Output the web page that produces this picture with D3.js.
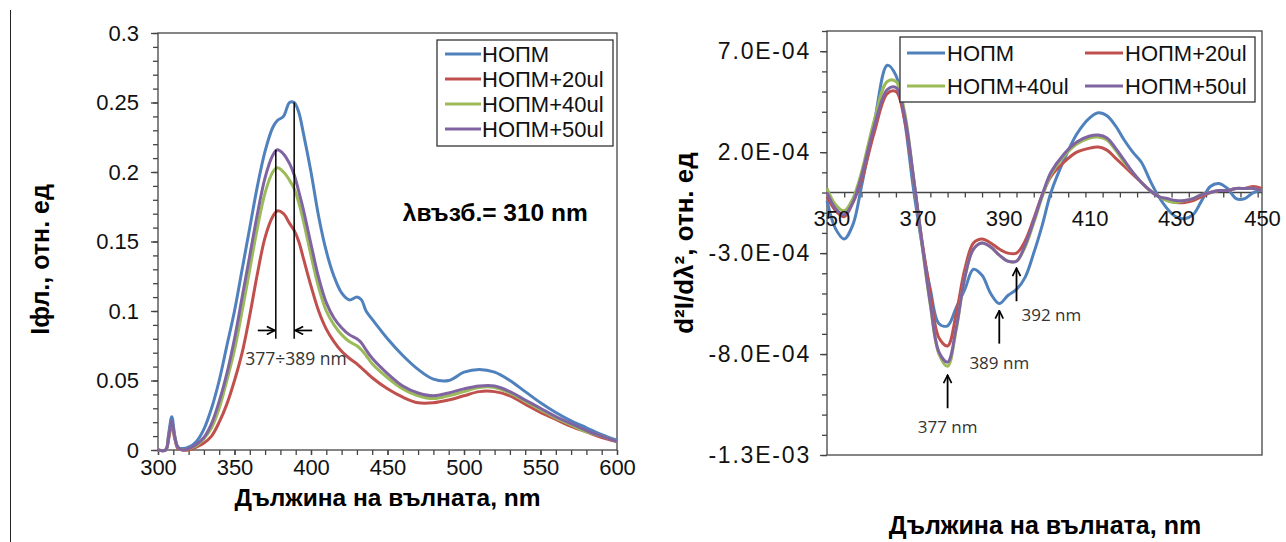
<!DOCTYPE html>
<html>
<head>
<meta charset="utf-8">
<script src="https://cdnjs.cloudflare.com/ajax/libs/d3/7.8.5/d3.min.js"></script>
<style>
body { margin: 0; background: #fff; }
svg { display: block; font-family: "Liberation Sans", Arial, sans-serif; }
.axis path, .axis line { stroke: #444; stroke-width: 1.3; }
.axis text { fill: #111; font-size: 22px; }
.wide text { font-size: 23px; letter-spacing: 1.8px; }
</style>
</head>
<body>
<div id="diagram_area"></div>
<script>
// Флуоресценция и втора производна - данни, отчетени от графиката

var names = ["НОПМ", "НОПМ+20ul", "НОПМ+40ul", "НОПМ+50ul"];
var colors = ["#4F81BD", "#C0504D", "#9BBB59", "#8064A2"];

// ляв график: Iфл. спрямо дължина на вълната
var flWl = [300, 305, 307, 309, 311, 313, 316, 320, 325, 330, 335, 340, 345, 350, 355, 360, 365, 370, 375, 378,
            382, 386, 389, 392, 395, 400, 405, 410, 415, 420, 425, 430, 433, 436, 440, 450, 460, 470, 480, 490,
            500, 510, 520, 530, 540, 550, 560, 570, 580, 590, 600];
var flNopm = [0, 0, 0.012, 0.024, 0.01, 0.002, 0.001, 0.002, 0.006, 0.015, 0.03, 0.05, 0.075, 0.1, 0.13, 0.16, 0.19, 0.215, 0.232, 0.237,
              0.24, 0.25, 0.25, 0.243, 0.228, 0.2, 0.168, 0.143, 0.125, 0.113, 0.108, 0.11, 0.108, 0.1, 0.094, 0.08, 0.068, 0.058, 0.051, 0.05,
              0.056, 0.058, 0.056, 0.05, 0.042, 0.034, 0.027, 0.021, 0.016, 0.011, 0.007];
var flNopm20 = [0, 0, 0.008, 0.018, 0.008, 0.001, 0, 0, 0.002, 0.005, 0.01, 0.02, 0.033, 0.05, 0.07, 0.097, 0.127, 0.153, 0.168, 0.172,
                0.17, 0.163, 0.158, 0.15, 0.138, 0.118, 0.1, 0.087, 0.078, 0.071, 0.066, 0.062, 0.059, 0.056, 0.052, 0.044, 0.038, 0.034, 0.034, 0.036,
                0.039, 0.042, 0.042, 0.039, 0.033, 0.027, 0.022, 0.017, 0.013, 0.009, 0.006];
var flNopm40 = [0, 0, 0.01, 0.02, 0.009, 0.002, 0, 0.001, 0.003, 0.008, 0.016, 0.03, 0.05, 0.072, 0.1, 0.13, 0.16, 0.185, 0.2, 0.203,
                0.2, 0.194, 0.188, 0.178, 0.165, 0.14, 0.117, 0.1, 0.09, 0.083, 0.078, 0.075, 0.072, 0.068, 0.062, 0.052, 0.044, 0.039, 0.037, 0.039,
                0.042, 0.045, 0.045, 0.041, 0.035, 0.029, 0.023, 0.018, 0.013, 0.01, 0.006];
var flNopm50 = [0, 0, 0.01, 0.021, 0.009, 0.002, 0, 0.001, 0.004, 0.009, 0.019, 0.035, 0.055, 0.08, 0.11, 0.14, 0.17, 0.196, 0.212, 0.216,
                0.213, 0.206, 0.198, 0.186, 0.173, 0.148, 0.124, 0.106, 0.095, 0.088, 0.083, 0.08, 0.077, 0.072, 0.066, 0.055, 0.046, 0.041, 0.039, 0.041,
                0.044, 0.046, 0.046, 0.042, 0.036, 0.03, 0.024, 0.019, 0.014, 0.01, 0.006];
var flTicks = [0, 0.05, 0.1, 0.15, 0.2, 0.25, 0.3];
var flTickLabels = ["0", "0.05", "0.1", "0.15", "0.2", "0.25", "0.3"];
var flWlTicks = [300, 350, 400, 450, 500, 550, 600];

// десен график: d2I/dλ2, стойностите са в единици 1E-04
var d2Wl = [349, 351, 353, 355, 357, 360, 363, 365, 367, 369, 371, 373, 375, 377, 379, 381, 383, 385, 387, 389,
            391, 393, 395, 397, 399, 401, 404, 407, 410, 412, 414, 416, 418, 420, 422, 424, 426, 428, 430, 432,
            434, 436, 438, 440, 442, 444, 446, 448, 450];
var d2Nopm = [-0.4, -1.8, -2.3, -1.6, 0.3, 3.5, 6.3, 5.8, 3.6, 0.3, -2.5, -4.8, -6.5, -6.6, -5.7, -4.8, -3.8, -4.1, -5.0, -5.5,
              -5.1, -4.8, -4.2, -3.0, -1.6, 0, 1.6, 2.9, 3.7, 3.95, 3.8, 3.3, 2.6, 2.0, 1.5, 0.6, -0.2, -0.8, -1.2, -1.3,
              -1.1, -0.4, 0.3, 0.45, 0.2, -0.3, -0.3, 0, 0.1];
var d2Nopm20 = [-0.2, -0.9, -1.2, -0.5, 0.6, 3.0, 4.9, 5.0, 3.6, 0.8, -2.3, -5.0, -7.2, -7.6, -6.0, -3.8, -2.5, -2.3, -2.5, -2.8,
                -3.0, -3.0, -2.4, -1.3, -0.1, 0.8, 1.5, 2.0, 2.2, 2.25, 2.1, 1.7, 1.3, 0.9, 0.5, 0.1, -0.2, -0.4, -0.5, -0.5,
                -0.4, -0.2, 0, 0.1, 0.1, 0.2, 0.2, 0.3, 0.2];
var d2Nopm40 = [0.2, -0.6, -0.9, -0.3, 1.0, 3.6, 5.5, 5.5, 4.0, 0.9, -2.5, -5.6, -8.0, -8.6, -6.8, -4.2, -2.8, -2.5, -2.7, -3.1,
                -3.4, -3.4, -2.7, -1.5, -0.2, 0.9, 1.8, 2.4, 2.7, 2.75, 2.6, 2.1, 1.5, 1.0, 0.5, 0.1, -0.2, -0.4, -0.5, -0.4,
                -0.3, -0.1, 0, 0.1, 0.1, 0.2, 0.2, 0.2, 0.1];
var d2Nopm50 = [0, -0.8, -1.1, -0.5, 0.8, 3.3, 5.1, 5.2, 3.8, 0.9, -2.4, -5.5, -7.9, -8.4, -6.7, -4.2, -2.8, -2.5, -2.7, -3.1,
                -3.4, -3.4, -2.6, -1.4, -0.1, 1.0, 1.9, 2.5, 2.8, 2.85, 2.7, 2.2, 1.6, 1.0, 0.5, 0.1, -0.2, -0.3, -0.4, -0.4,
                -0.3, -0.1, 0, 0.1, 0.1, 0.2, 0.2, 0.2, 0.1];
var d2Ticks = [-13, -8, -3, 2, 7];
var d2TickLabels = ["-1.3E-03", "-8.0E-04", "-3.0E-04", "2.0E-04", "7.0E-04"];
var d2WlTicks = [350, 370, 390, 410, 430, 450];

// стрелки на десния график
var d2Marks = [
    {wl: 377, label: "377 nm"},
    {wl: 389, label: "389 nm"},
    {wl: 392, label: "392 nm"}
];

var svg = d3.select("#diagram_area").append("svg")
    .attr("width", 1286)
    .attr("height", 542);

// рамката на страницата отляво
svg.append("line")
    .attr("x1", 10.5).attr("x2", 10.5)
    .attr("y1", 10).attr("y2", 542)
    .attr("stroke", "#222").attr("stroke-width", 1);

function seriesOf(wl, list) {
    return list.map(function(vals, i) {
        return {name: names[i], color: colors[i], values: wl.map(function(w, j) { return [w, vals[j]]; })};
    });
}

// ---------------- ляв график ----------------
var fl = {left: 158, right: 617, top: 33, bottom: 450};

var x1 = d3.scaleLinear().domain([300, 600]).range([fl.left, fl.right]);
var y1 = d3.scaleLinear().domain([0, 0.3]).range([fl.bottom, fl.top]);

var g1 = svg.append("g");

g1.append("rect")
    .attr("x", fl.left).attr("y", fl.top)
    .attr("width", fl.right - fl.left).attr("height", fl.bottom - fl.top)
    .attr("fill", "none").attr("stroke", "#444").attr("stroke-width", 1.3);

// малки деления
g1.append("g").attr("class", "axis")
    .attr("transform", "translate(" + fl.left + ",0)")
    .call(d3.axisLeft(y1).tickValues(d3.range(0, 31).map(function(i) { return i / 100; })).tickSize(5).tickFormat(""))
    .select(".domain").remove();
g1.append("g").attr("class", "axis")
    .attr("transform", "translate(" + fl.left + ",0)")
    .call(d3.axisLeft(y1).tickValues(flTicks).tickSize(7).tickPadding(12)
        .tickFormat(function(d, i) { return flTickLabels[i]; }))
    .select(".domain").remove();

g1.append("g").attr("class", "axis")
    .attr("transform", "translate(0," + fl.bottom + ")")
    .call(d3.axisBottom(x1).tickValues(d3.range(300, 601, 10)).tickSize(5).tickFormat(""))
    .select(".domain").remove();
g1.append("g").attr("class", "axis")
    .attr("transform", "translate(0," + fl.bottom + ")")
    .call(d3.axisBottom(x1).tickValues(flWlTicks).tickSize(5).tickPadding(4).tickFormat(d3.format("d")))
    .select(".domain").remove();

var line1 = d3.line()
    .curve(d3.curveCatmullRom)
    .x(function(d) { return x1(d[0]); })
    .y(function(d) { return y1(d[1]); });

g1.append("g").selectAll("path")
    .data(seriesOf(flWl, [flNopm, flNopm20, flNopm40, flNopm50]))
    .enter().append("path")
    .attr("d", function(d) { return line1(d.values); })
    .attr("fill", "none")
    .attr("stroke", function(d) { return d.color; })
    .attr("stroke-width", 3)
    .attr("stroke-linejoin", "round");

// вертикалните линии при 377 и 389 nm
var peakLines = [{wl: 377, v: flNopm50[flWl.indexOf(378)]}, {wl: 389, v: flNopm[flWl.indexOf(389)]}];
g1.selectAll(".peak")
    .data(peakLines)
    .enter().append("line")
    .attr("x1", function(d) { return x1(d.wl); })
    .attr("x2", function(d) { return x1(d.wl); })
    .attr("y1", function(d) { return y1(d.v); })
    .attr("y2", y1(0.08))
    .attr("stroke", "#000").attr("stroke-width", 1.5);

svg.append("defs").append("marker")
    .attr("id", "arr")
    .attr("viewBox", "0 0 10 10")
    .attr("refX", 9).attr("refY", 5)
    .attr("markerWidth", 10).attr("markerHeight", 10)
    .attr("markerUnits", "userSpaceOnUse")
    .attr("orient", "auto")
  .append("path")
    .attr("d", "M1,1 L9,5 L1,9")
    .attr("fill", "none").attr("stroke", "#000").attr("stroke-width", 1.7);

var ay = y1(0.086);
g1.append("line")
    .attr("x1", x1(377) - 18).attr("x2", x1(377) - 1)
    .attr("y1", ay).attr("y2", ay)
    .attr("stroke", "#000").attr("stroke-width", 1.7).attr("marker-end", "url(#arr)");
g1.append("line")
    .attr("x1", x1(389) + 18).attr("x2", x1(389) + 1)
    .attr("y1", ay).attr("y2", ay)
    .attr("stroke", "#000").attr("stroke-width", 1.7).attr("marker-end", "url(#arr)");

g1.append("text")
    .attr("x", x1(383) + 11).attr("y", y1(0.0615))
    .attr("text-anchor", "middle")
    .attr("font-family", "'Open Sans', sans-serif")
    .attr("font-size", 17.5).attr("fill", "#333")
    .text("377÷389 nm");

g1.append("text")
    .attr("x", x1(460)).attr("y", y1(0.165))
    .attr("font-size", 24.5).attr("font-weight", "bold")
    .text("λвъзб.= 310 nm");

// легенда
var lg1 = g1.append("g").attr("transform", "translate(437,40)");
lg1.append("rect")
    .attr("width", 176).attr("height", 106)
    .attr("fill", "#fff").attr("stroke", "#333").attr("stroke-width", 1.3);
var lgItem1 = lg1.selectAll(".item")
    .data(names)
    .enter().append("g")
    .attr("transform", function(d, i) { return "translate(8," + (14 + i * 25) + ")"; });
lgItem1.append("line")
    .attr("x1", 0).attr("x2", 36)
    .attr("stroke", function(d, i) { return colors[i]; })
    .attr("stroke-width", 3);
lgItem1.append("text")
    .attr("x", 37).attr("dy", "0.36em")
    .attr("font-size", 22).attr("fill", "#111")
    .text(function(d) { return d; });

g1.append("text")
    .attr("transform", "translate(49," + ((fl.top + fl.bottom) / 2 + 18) + ") rotate(-90)")
    .attr("text-anchor", "middle")
    .attr("font-size", 25).attr("font-weight", "bold")
    .text("Iфл., отн. ед");

g1.append("text")
    .attr("x", (fl.left + fl.right) / 2).attr("y", 506)
    .attr("text-anchor", "middle")
    .attr("font-size", 24.5).attr("font-weight", "bold")
    .text("Дължина на вълната, nm");

// ---------------- десен график ----------------
var d2 = {left: 827, right: 1262, top: 31, bottom: 455};

var x2 = d3.scaleLinear().domain([349, 450]).range([d2.left, d2.right]);
var y2 = d3.scaleLinear().domain([-13, 8]).range([d2.bottom, d2.top]);

var g2 = svg.append("g");

g2.append("rect")
    .attr("x", d2.left).attr("y", d2.top)
    .attr("width", d2.right - d2.left).attr("height", d2.bottom - d2.top)
    .attr("fill", "none").attr("stroke", "#444").attr("stroke-width", 1.3);

g2.append("g").attr("class", "axis")
    .attr("transform", "translate(" + d2.left + ",0)")
    .call(d3.axisLeft(y2).tickValues(d3.range(-13, 9)).tickSize(5).tickFormat(""))
    .select(".domain").remove();
g2.append("g").attr("class", "axis wide")
    .attr("transform", "translate(" + d2.left + ",0)")
    .call(d3.axisLeft(y2).tickValues(d2Ticks).tickSize(7).tickPadding(9)
        .tickFormat(function(d, i) { return d2TickLabels[i]; }))
    .select(".domain").remove();

var x2Axis = g2.append("g").attr("class", "axis")
    .attr("transform", "translate(0," + y2(0) + ")")
    .call(d3.axisBottom(x2).tickValues(d3.range(353, 450, 4)).tickSize(5).tickFormat(""));
x2Axis.select(".domain").attr("d", "M" + d2.left + ",0H" + d2.right);

var line2 = d3.line()
    .curve(d3.curveCatmullRom)
    .x(function(d) { return x2(d[0]); })
    .y(function(d) { return y2(d[1]); });

g2.append("g").selectAll("path")
    .data(seriesOf(d2Wl, [d2Nopm, d2Nopm20, d2Nopm40, d2Nopm50]))
    .enter().append("path")
    .attr("d", function(d) { return line2(d.values); })
    .attr("fill", "none")
    .attr("stroke", function(d) { return d.color; })
    .attr("stroke-width", 3)
    .attr("stroke-linejoin", "round");

// етикетите на оста x се рисуват върху кривите
g2.append("g").attr("class", "axis")
    .attr("transform", "translate(0," + y2(0) + ")")
    .call(d3.axisBottom(x2).tickValues(d2WlTicks).tickSize(0).tickPadding(18).tickFormat(d3.format("d")))
    .select(".domain").remove();

// стрелки нагоре и надписи
var markTop = {377: -9.0, 389: -5.8, 392: -3.7};
var markG = g2.selectAll(".mark")
    .data(d2Marks)
    .enter().append("g");
markG.append("line")
    .attr("x1", function(d) { return x2(d.wl + (d.wl == 392 ? 1 : 0)); })
    .attr("x2", function(d) { return x2(d.wl + (d.wl == 392 ? 1 : 0)); })
    .attr("y1", function(d) { return y2(markTop[d.wl]) + 34; })
    .attr("y2", function(d) { return y2(markTop[d.wl]) + 1; })
    .attr("stroke", "#000").attr("stroke-width", 1.8).attr("marker-end", "url(#arr)");
markG.append("text")
    .attr("x", function(d) { return d.wl == 392 ? x2(393) + 5 : x2(d.wl); })
    .attr("y", function(d) { return y2(markTop[d.wl]) + (d.wl == 392 ? 54 : 59); })
    .attr("text-anchor", function(d) { return d.wl == 392 ? "start" : "middle"; })
    .attr("font-family", "'Open Sans', sans-serif")
    .attr("font-size", 17).attr("fill", "#333")
    .text(function(d) { return d.label; });

// легенда в две колони
var lg2 = g2.append("g").attr("transform", "translate(900,37)");
lg2.append("rect")
    .attr("width", 355).attr("height", 65)
    .attr("fill", "#fff").attr("stroke", "#333").attr("stroke-width", 1.3);
var lgItem2 = lg2.selectAll(".item")
    .data(names)
    .enter().append("g")
    .attr("transform", function(d, i) { return "translate(" + (i % 2 ? 185 : 7) + "," + (16 + Math.floor(i / 2) * 33) + ")"; });
lgItem2.append("line")
    .attr("x1", 0).attr("x2", 38)
    .attr("stroke", function(d, i) { return colors[i]; })
    .attr("stroke-width", 3);
lgItem2.append("text")
    .attr("x", 40).attr("dy", "0.36em")
    .attr("font-size", 22).attr("fill", "#111")
    .text(function(d) { return d; });

g2.append("text")
    .attr("transform", "translate(693," + ((d2.top + d2.bottom) / 2) + ") rotate(-90)")
    .attr("text-anchor", "middle")
    .attr("font-size", 26).attr("font-weight", "bold")
    .text("d²I/dλ², отн. ед");

g2.append("text")
    .attr("x", 1045).attr("y", 534)
    .attr("text-anchor", "middle")
    .attr("font-size", 25).attr("font-weight", "bold")
    .text("Дължина на вълната, nm");
</script>
</body>
</html>
